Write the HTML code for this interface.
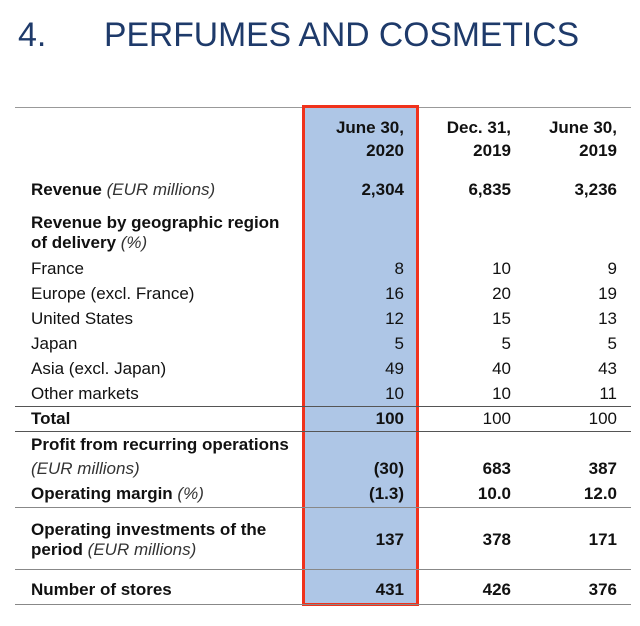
<!DOCTYPE html>
<html><head><meta charset="utf-8"><style>
body{margin:0;width:640px;height:626px;background:#fff;position:relative;overflow:hidden;font-family:"Liberation Sans",sans-serif;color:#111;}
.t{position:absolute;font-size:17px;line-height:20px;white-space:nowrap;}
.b{font-weight:bold;}
.r{text-align:right;width:120px;}
.h{line-height:23px;}
.c1{left:284px}.c2{left:391px}.c3{left:497px}
.l{left:31px}
i{font-weight:normal;font-style:italic;color:#333}
.hl{position:absolute;left:302px;top:105px;width:111px;height:495px;background:#aec6e6;border:3px solid #f0321c;}
.ln{position:absolute;left:15px;width:616px;height:0;border-top:1.5px solid #555;}
</style></head><body>
<div style="position:absolute;left:18px;top:16px;font-size:34px;color:#1e3a6a;">4.</div>
<div style="position:absolute;left:104px;top:16px;font-size:34px;color:#1e3a6a;transform:scaleX(0.99);transform-origin:left top;">PERFUMES AND COSMETICS</div>
<div class="ln" style="top:107px;border-top:1px solid #999"></div>
<div class="hl"></div>
<div class="ln" style="top:406px"></div>
<div class="ln" style="top:431px"></div>
<div class="ln" style="top:507px;border-top:1px solid #888"></div>
<div class="ln" style="top:569px;border-top:1px solid #888"></div>
<div class="ln" style="top:604px;border-top:1px solid #888"></div>

<div class="t r h b c1" style="top:116px">June 30,<br>2020</div>
<div class="t r h b c2" style="top:116px">Dec. 31,<br>2019</div>
<div class="t r h b c3" style="top:116px">June 30,<br>2019</div>

<div class="t b l" style="top:180px">Revenue <i>(EUR millions)</i></div>
<div class="t b r c1" style="top:180px">2,304</div><div class="t b r c2" style="top:180px">6,835</div><div class="t b r c3" style="top:180px">3,236</div>

<div class="t b l" style="top:213px">Revenue by geographic region</div>
<div class="t b l" style="top:233px">of delivery <i>(%)</i></div>

<div class="t l" style="top:259px">France</div>
<div class="t r c1" style="top:259px">8</div><div class="t r c2" style="top:259px">10</div><div class="t r c3" style="top:259px">9</div>
<div class="t l" style="top:284px">Europe (excl. France)</div>
<div class="t r c1" style="top:284px">16</div><div class="t r c2" style="top:284px">20</div><div class="t r c3" style="top:284px">19</div>
<div class="t l" style="top:309px">United States</div>
<div class="t r c1" style="top:309px">12</div><div class="t r c2" style="top:309px">15</div><div class="t r c3" style="top:309px">13</div>
<div class="t l" style="top:334px">Japan</div>
<div class="t r c1" style="top:334px">5</div><div class="t r c2" style="top:334px">5</div><div class="t r c3" style="top:334px">5</div>
<div class="t l" style="top:359px">Asia (excl. Japan)</div>
<div class="t r c1" style="top:359px">49</div><div class="t r c2" style="top:359px">40</div><div class="t r c3" style="top:359px">43</div>
<div class="t l" style="top:384px">Other markets</div>
<div class="t r c1" style="top:384px">10</div><div class="t r c2" style="top:384px">10</div><div class="t r c3" style="top:384px">11</div>

<div class="t b l" style="top:409px">Total</div>
<div class="t b r c1" style="top:409px">100</div><div class="t r c2" style="top:409px">100</div><div class="t r c3" style="top:409px">100</div>

<div class="t b l" style="top:435px">Profit from recurring operations</div>
<div class="t l" style="top:459px"><i>(EUR millions)</i></div>
<div class="t b r c1" style="top:459px">(30)</div><div class="t b r c2" style="top:459px">683</div><div class="t b r c3" style="top:459px">387</div>
<div class="t b l" style="top:484px">Operating margin <i>(%)</i></div>
<div class="t b r c1" style="top:484px">(1.3)</div><div class="t b r c2" style="top:484px">10.0</div><div class="t b r c3" style="top:484px">12.0</div>

<div class="t b l" style="top:520px">Operating investments of the</div>
<div class="t b l" style="top:540px">period <i>(EUR millions)</i></div>
<div class="t b r c1" style="top:530px">137</div><div class="t b r c2" style="top:530px">378</div><div class="t b r c3" style="top:530px">171</div>

<div class="t b l" style="top:580px">Number of stores</div>
<div class="t b r c1" style="top:580px">431</div><div class="t b r c2" style="top:580px">426</div><div class="t b r c3" style="top:580px">376</div>
</body></html>
